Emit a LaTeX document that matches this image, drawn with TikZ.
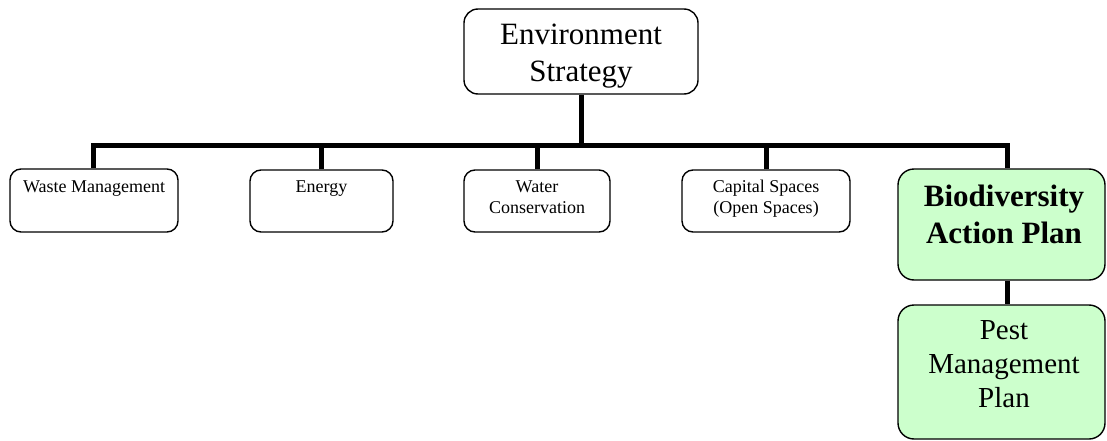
\documentclass[tikz,border=0pt]{standalone}
\usepackage{fontspec}
\setmainfont{Liberation Serif}
\usetikzlibrary{backgrounds}
\definecolor{lgreen}{HTML}{CCFFCC}
\tikzset{
  box/.style={draw=black, line width=1.4pt, rounded corners=11pt, inner sep=0pt, fill=white},
  gbox/.style={box, fill=lgreen, rounded corners=16pt},
  conn/.style={line width=5pt, line join=miter},
  txt/.style={anchor=base, align=center, inner sep=0pt},
}
\begin{document}
\begin{tikzpicture}[x=1pt,y=-1pt]
\useasboundingbox (0,0) rectangle (1107,441);
% boxes
\node[box, rounded corners=14pt, minimum width=234pt, minimum height=85pt] (env) at (581,51.5) {};
\node[box, minimum width=168pt, minimum height=63pt] (waste) at (94,200.5) {};
\node[box, minimum width=143pt, minimum height=62pt] (energy) at (321.5,201) {};
\node[box, minimum width=146pt, minimum height=62pt] (water) at (537,201) {};
\node[box, minimum width=168pt, minimum height=62pt] (capital) at (766,201) {};
\node[gbox, minimum width=207pt, minimum height=111pt] (bio) at (1001.5,224.5) {};
\node[gbox, minimum width=207pt, minimum height=134pt] (pest) at (1001.5,372) {};
% texts (anchor=base is the baseline of the last line)
\node[txt, font=\fontsize{31}{37}\selectfont] (envt) at (581,82) {Environment\\Strategy};
\node[txt, font=\fontsize{18}{21}\selectfont] (wastet) at (94,192) {Waste Management};
\node[txt, font=\fontsize{18}{21}\selectfont] (energyt) at (321.5,192) {Energy};
\node[txt, font=\fontsize{18}{21}\selectfont] (watert) at (537,213) {Water\\Conservation};
\node[txt, font=\fontsize{18}{21}\selectfont] (capitalt) at (766,213) {Capital Spaces\\(Open Spaces)};
\node[txt, font=\fontsize{31}{37}\selectfont\bfseries] (biot) at (1004,243) {Biodiversity\\Action Plan};
\node[txt, font=\fontsize{29}{34}\selectfont] (pestt) at (1004,407) {Pest\\Management\\Plan};
% connectors
\begin{scope}[on background layer]
\coordinate (bus) at (581,145);
\draw[conn] (env.south) -- (bus);
\draw[conn] ([xshift=-1pt]waste.north) |- (bus);
\draw[conn] (energy.north) |- (bus);
\draw[conn] (water.north) |- (bus);
\draw[conn] (capital.north) |- (bus);
\draw[conn] ([xshift=5.5pt]bio.north) |- (bus);
\draw[conn] ([xshift=5.5pt]bio.south) -- ([xshift=5.5pt]pest.north);
\end{scope}
\end{tikzpicture}
\end{document}
